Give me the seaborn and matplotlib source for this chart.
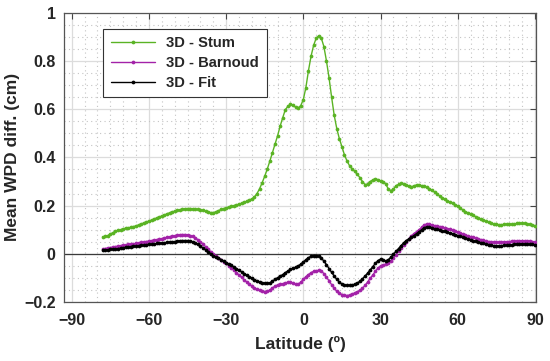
import numpy as np
import pandas as pd
import matplotlib
matplotlib.use("Agg")
import matplotlib.pyplot as plt
import seaborn as sns
from matplotlib.ticker import MultipleLocator

# latitude grid of the curves (1 degree steps)
lat = list(range(-78, 91))

stum = [
    0.070, 0.072, 0.076, 0.082, 0.088, 0.093, 0.097, 0.100, 0.104, 0.106,   # -78..-69
    0.108, 0.110, 0.113, 0.116, 0.120, 0.124, 0.128, 0.132, 0.136, 0.140,   # -68..-59
    0.144, 0.149, 0.153, 0.157, 0.161, 0.166, 0.170, 0.174, 0.177, 0.180,   # -58..-49
    0.183, 0.185, 0.187, 0.188, 0.188, 0.187, 0.185, 0.184, 0.182, 0.180,   # -48..-39
    0.177, 0.174, 0.171, 0.171, 0.174, 0.179, 0.184, 0.188, 0.191, 0.194,   # -38..-29
    0.197, 0.200, 0.203, 0.206, 0.210, 0.214, 0.218, 0.223, 0.228, 0.236,   # -28..-19
    0.250, 0.270, 0.295, 0.322, 0.352, 0.385, 0.420, 0.455, 0.490, 0.530,   # -18..-9
    0.565, 0.598, 0.612, 0.620, 0.617, 0.608, 0.605, 0.615, 0.640, 0.690,   # -8..1
    0.760, 0.820, 0.865, 0.895, 0.905, 0.895, 0.860, 0.800, 0.730, 0.650,   # 2..11
    0.575, 0.520, 0.478, 0.445, 0.410, 0.385, 0.365, 0.352, 0.342, 0.330,   # 12..21
    0.316, 0.300, 0.287, 0.290, 0.300, 0.307, 0.311, 0.308, 0.303, 0.300,   # 22..31
    0.290, 0.270, 0.262, 0.268, 0.283, 0.288, 0.292, 0.288, 0.284, 0.282,   # 32..41
    0.278, 0.282, 0.286, 0.284, 0.283, 0.281, 0.276, 0.270, 0.263, 0.256,   # 42..51
    0.248, 0.240, 0.232, 0.226, 0.220, 0.215, 0.210, 0.204, 0.198, 0.190,   # 52..61
    0.182, 0.175, 0.170, 0.166, 0.160, 0.154, 0.149, 0.144, 0.139, 0.135,   # 62..71
    0.131, 0.127, 0.124, 0.122, 0.121, 0.121, 0.122, 0.123, 0.123, 0.122,   # 72..81
    0.124, 0.126, 0.127, 0.127, 0.126, 0.124, 0.122, 0.119, 0.117,          # 82..90
]

barnoud = [
    0.020, 0.022, 0.024, 0.026, 0.028, 0.030, 0.032, 0.034, 0.035, 0.037,
    0.039, 0.040, 0.041, 0.043, 0.045, 0.047, 0.049, 0.051, 0.053, 0.055,
    0.057, 0.059, 0.061, 0.063, 0.066, 0.068, 0.071, 0.073, 0.075, 0.077,
    0.079, 0.080, 0.080, 0.079, 0.076, 0.072, 0.066, 0.059, 0.050, 0.040,
    0.030, 0.020, 0.009, -0.002, -0.010, -0.016, -0.024, -0.032, -0.040, -0.049,
    -0.058, -0.068, -0.078, -0.088, -0.098, -0.108, -0.117, -0.126, -0.134, -0.141,
    -0.148, -0.152, -0.155, -0.157, -0.156, -0.150, -0.142, -0.134, -0.129, -0.126,
    -0.124, -0.121, -0.118, -0.119, -0.123, -0.127, -0.126, -0.118, -0.106, -0.095,
    -0.086, -0.078, -0.073, -0.070, -0.069, -0.072, -0.082, -0.097, -0.112, -0.128,
    -0.143, -0.155, -0.163, -0.169, -0.172, -0.173, -0.171, -0.167, -0.162, -0.157,
    -0.152, -0.143, -0.131, -0.117, -0.102, -0.088, -0.073, -0.059, -0.050, -0.046,
    -0.043, -0.040, -0.030, -0.016, -0.004, 0.010, 0.024, 0.038, 0.050, 0.062,
    0.074, 0.084, 0.092, 0.100, 0.110, 0.120, 0.124, 0.123, 0.120, 0.117,
    0.115, 0.113, 0.110, 0.108, 0.105, 0.102, 0.098, 0.094, 0.090, 0.086,
    0.082, 0.078, 0.075, 0.071, 0.068, 0.065, 0.062, 0.059, 0.056, 0.053,
    0.051, 0.049, 0.048, 0.047, 0.047, 0.048, 0.049, 0.050, 0.051, 0.052,
    0.052, 0.053, 0.054, 0.054, 0.053, 0.053, 0.052, 0.051, 0.049,
]

fit = [
    0.015, 0.016, 0.017, 0.018, 0.019, 0.020, 0.022, 0.023, 0.025, 0.027,
    0.029, 0.030, 0.031, 0.032, 0.034, 0.035, 0.036, 0.038, 0.039, 0.040,
    0.041, 0.043, 0.044, 0.045, 0.046, 0.047, 0.048, 0.050, 0.051, 0.053,
    0.054, 0.055, 0.055, 0.055, 0.054, 0.050, 0.045, 0.039, 0.032, 0.024,
    0.016, 0.008, 0.000, -0.008, -0.013, -0.017, -0.024, -0.031, -0.037, -0.042,
    -0.047, -0.054, -0.061, -0.068, -0.075, -0.082, -0.089, -0.095, -0.101, -0.107,
    -0.112, -0.117, -0.120, -0.122, -0.123, -0.120, -0.114, -0.106, -0.099, -0.093,
    -0.086, -0.078, -0.071, -0.065, -0.060, -0.055, -0.050, -0.043, -0.034, -0.024,
    -0.016, -0.010, -0.007, -0.007, -0.010, -0.018, -0.030, -0.045, -0.061, -0.077,
    -0.092, -0.106, -0.117, -0.125, -0.129, -0.131, -0.131, -0.129, -0.126, -0.121,
    -0.114, -0.104, -0.092, -0.080, -0.067, -0.053, -0.040, -0.028, -0.022, -0.026,
    -0.030, -0.025, -0.014, -0.002, 0.010, 0.022, 0.034, 0.046, 0.055, 0.062,
    0.069, 0.076, 0.084, 0.092, 0.100, 0.108, 0.112, 0.112, 0.108, 0.104,
    0.101, 0.098, 0.095, 0.093, 0.090, 0.087, 0.083, 0.080, 0.076, 0.072,
    0.068, 0.065, 0.061, 0.058, 0.055, 0.052, 0.049, 0.046, 0.043, 0.040,
    0.038, 0.036, 0.034, 0.033, 0.033, 0.034, 0.035, 0.036, 0.037, 0.038,
    0.040, 0.041, 0.042, 0.042, 0.041, 0.041, 0.040, 0.039, 0.037,
]

names = ["3D - Stum", "3D - Barnoud", "3D - Fit"]
colors = ["#5ab324", "#a322a8", "#000000"]

df = pd.concat([
    pd.DataFrame({"lat": lat, "val": stum, "model": names[0]}),
    pd.DataFrame({"lat": lat, "val": barnoud, "model": names[1]}),
    pd.DataFrame({"lat": lat, "val": fit, "model": names[2]}),
])

sns.set_style("white")
plt.rcParams["font.family"] = ["Liberation Sans", "DejaVu Sans"]
plt.rcParams["font.weight"] = "bold"
plt.rcParams["axes.unicode_minus"] = True

fig = plt.figure(figsize=(5.5, 3.61), dpi=100)
ax = fig.add_axes([0.1164, 0.1634, 0.858, 0.801])

# grid first so the curves sit on top
ax.xaxis.set_major_locator(MultipleLocator(30))
ax.xaxis.set_minor_locator(MultipleLocator(5))
ax.yaxis.set_major_locator(MultipleLocator(0.2))
ax.yaxis.set_minor_locator(MultipleLocator(0.05))
ax.grid(which="major", color="#dcdcdc", lw=0.9, ls="-")
ax.grid(which="minor", color="#c4c4c4", lw=0.8, ls=(0, (1, 3)))
ax.set_axisbelow(True)
ax.axhline(0, color="#3a3a3a", lw=0.9, zorder=1)

g = sns.lineplot(data=df, x="lat", y="val", hue="model", palette=colors,
                 hue_order=names, marker="o", markersize=2.7, markeredgewidth=0,
                 lw=1.0, ax=ax, zorder=3)

ax.set_xlim(-93, 90.4)
ax.set_ylim(-0.2, 1.0)
ax.set_xticks([-90, -60, -30, 0, 30, 60, 90])
ax.set_yticks([-0.2, 0, 0.2, 0.4, 0.6, 0.8, 1])
ax.set_yticklabels(["\u22120.2", "0", "0.2", "0.4", "0.6", "0.8", "1"])
ax.set_xticklabels(["\u221290", "\u221260", "\u221230", "0", "30", "60", "90"])
ax.tick_params(which="major", direction="in", length=4, width=0.8, color="#444444",
               top=True, right=True, labelsize=11.5)
ax.tick_params(axis="x", which="major", pad=8)
ax.tick_params(axis="y", which="major", pad=6)
ax.tick_params(which="minor", length=0)
for lab in ax.get_xticklabels() + ax.get_yticklabels():
    lab.set_fontweight("bold")
for s in ax.spines.values():
    s.set_color("#555555")
    s.set_linewidth(0.9)

ax.set_xlabel("Latitude (\u00ba)", fontsize=12.5, fontweight="bold", labelpad=6)
ax.set_ylabel("Mean WPD diff. (cm)", fontsize=12.5, fontweight="bold", labelpad=3)

leg = ax.legend(loc="upper left", bbox_to_anchor=(0.083, 0.945), borderaxespad=0,
                frameon=True, fancybox=False, framealpha=1, edgecolor="#333333",
                prop={"size": 10.6, "weight": "bold"}, handlelength=3.0,
                labelspacing=0.4, borderpad=0.5, handletextpad=0.8)
leg.get_frame().set_linewidth(0.8)

fig.savefig("out.png", dpi=100)
